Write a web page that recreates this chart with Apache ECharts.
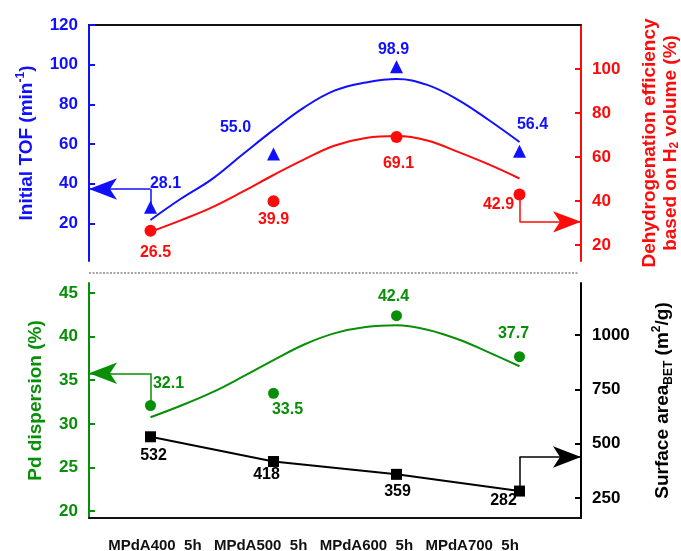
<!DOCTYPE html>
<html><head><meta charset="utf-8">
<script src="https://cdn.jsdelivr.net/npm/echarts@6/dist/echarts.min.js"></script>
<style>html,body{margin:0;padding:0;background:#fff}#c{width:681px;height:551px}</style>
</head><body><div id="c"></div>
<script>
// ---- data ----
const categories = ['MPdA400  5h', 'MPdA500  5h', 'MPdA600  5h', 'MPdA700  5h'];
const tof = [28.1, 55.0, 98.9, 56.4];
const dehydro = [26.5, 39.9, 69.1, 42.9];
const dispersion = [32.1, 33.5, 42.4, 37.7];
const bet = [532, 418, 359, 282];
// fitted trend curves (at sample positions along the category axis)
const fitX = [0, 0.25, 0.5, 0.75, 1.0, 1.25, 1.5, 1.75, 2.0, 2.25, 2.5, 2.75, 3.0];
const tofFit = [21.7, 32.5, 42.3, 54.8, 67.1, 78.5, 87.0, 91.0, 92.8, 89.8, 82.3, 72.1, 61.0];
const dehydroFit = [26.0, 31.3, 37.1, 44.2, 51.8, 58.9, 65.2, 68.6, 69.5, 67.5, 62.3, 56.6, 50.2];
const dispersionFit = [30.75, 32.1, 33.6, 35.4, 37.3, 39.1, 40.4, 41.1, 41.3, 40.8, 39.7, 38.2, 36.6];
// axis tick labels
const tofTicks = [20, 40, 60, 80, 100, 120];
const dehydroTicks = [20, 40, 60, 80, 100];
const dispTicks = [20, 25, 30, 35, 40, 45];
const betTicks = [250, 500, 750, 1000];
// arrow levels (axis-pointer arrows, in data units)
const tofArrow = 37.3, dehydroArrow = 30.5, dispArrow = 35.8, betArrow = 439;

// ---- styles ----
const FONT = '"Liberation Sans", Arial, sans-serif';
const BLUE = '#1010ff', RED = '#ff0a0a', GREEN = '#078f07', BLACK = '#000000';

const chart = echarts.init(document.getElementById('c'));

function yAx(gi, pos, color, min, max, ticks, name, gap, rich) {
  return {
    type: 'value', gridIndex: gi, position: pos, min: min, max: max,
    axisLine: { show: true, onZero: false, lineStyle: { color: color, width: 2 } },
    axisTick: { show: true, inside: true, length: 6, customValues: ticks, lineStyle: { color: color, width: 2 } },
    axisLabel: { customValues: ticks, color: color, fontSize: 17, fontWeight: 'bold', fontFamily: FONT, margin: 11,
      formatter: v => String(v) },
    splitLine: { show: false },
    name: name, nameLocation: 'middle', nameRotate: 90, nameGap: gap,
    nameTextStyle: { color: color, fontSize: 19, fontWeight: 'bold', fontFamily: FONT, rich: rich }
  };
}
function richFor(color, lh) {
  return {
    t: { color: color, fontSize: 19, fontWeight: 'bold', fontFamily: FONT, lineHeight: lh, verticalAlign: 'middle' },
    sup: { color: color, fontSize: 12, fontWeight: 'bold', fontFamily: FONT, lineHeight: lh, verticalAlign: 'top' },
    sub: { color: color, fontSize: 12, fontWeight: 'bold', fontFamily: FONT, lineHeight: lh, verticalAlign: 'bottom' }
  };
}
function pts(values, offsets, color, digits) {
  return values.map((v, i) => ({
    value: [i, v],
    label: { show: true, position: 'inside', offset: offsets[i], color: color, fontSize: 16, fontWeight: 'bold', fontFamily: FONT,
      formatter: () => v.toFixed(digits) }
  }));
}
function fit(ys) { return fitX.map((x, i) => [x, ys[i]]); }
function arrow(x0, y0, y1, xEnd, color) {
  return {
    silent: true, animation: false, label: { show: false },
    lineStyle: { color: color, width: 1.5, type: 'solid' },
    data: [
      [{ coord: [x0, y0], symbol: 'none' }, { coord: [x0, y1], symbol: 'none' }],
      [{ coord: [x0, y1], symbol: 'none' }, { coord: [xEnd, y1], symbol: 'arrow', symbolSize: [16, 28] }]
    ]
  };
}

const option = {
  animation: false,
  backgroundColor: '#ffffff',
  grid: [
    { left: 89, right: 100, top: 25, height: 236, outerBoundsMode: 'none', containLabel: false },
    { left: 89, right: 100, top: 283, height: 235, outerBoundsMode: 'none', containLabel: false },
    { left: 102, width: 423, top: 283, height: 235, outerBoundsMode: 'none', containLabel: false }
  ],
  xAxis: [
    { type: 'value', gridIndex: 0, min: -0.5, max: 3.5, position: 'top',
      axisLine: { onZero: false, lineStyle: { color: '#111', width: 2 } }, axisTick: { show: false }, axisLabel: { show: false }, splitLine: { show: false } },
    { type: 'value', gridIndex: 1, min: -0.5, max: 3.5, position: 'bottom',
      axisLine: { onZero: false, lineStyle: { color: '#111', width: 2 } }, axisTick: { show: false }, axisLabel: { show: false }, splitLine: { show: false } },
    { type: 'category', gridIndex: 2, data: categories, boundaryGap: true,
      axisLine: { show: false }, axisTick: { show: false },
      axisLabel: { interval: 0, hideOverlap: false, color: '#111', fontSize: 15, fontWeight: 'bold', fontFamily: FONT, margin: 20 } }
  ],
  yAxis: [
    yAx(0, 'left', BLUE, 1, 120, tofTicks, '{t|Initial TOF (min}{sup|-1}{t|)}', 50, richFor(BLUE, 24)),
    yAx(0, 'right', RED, 12.7, 120, dehydroTicks, '{t|Dehydrogenation efficiency}\n{t|based on H}{sub|2}{t| volume (%)}', 58, richFor(RED, 21)),
    yAx(1, 'left', GREEN, 19.2, 46.15, dispTicks, 'Pd dispersion (%)', 44, undefined),
    yAx(1, 'right', BLACK, 158, 1240, betTicks, '{t|Surface area}{sub|BET}{t| (m}{sup|2}{t|/g)}', 70, richFor(BLACK, 24)),
    { type: 'value', gridIndex: 2, show: false }
  ],
  graphic: [
    { type: 'line', silent: true, shape: { x1: 89, y1: 273, x2: 578, y2: 273 },
      style: { stroke: '#888', lineWidth: 1.5, lineDash: [2, 1.5] } }
  ],
  series: [
    { type: 'line', xAxisIndex: 0, yAxisIndex: 0, data: fit(tofFit), smooth: 0.4, symbol: 'none',
      lineStyle: { color: BLUE, width: 2 }, z: 2 },
    { type: 'line', xAxisIndex: 0, yAxisIndex: 1, data: fit(dehydroFit), smooth: 0.4, symbol: 'none',
      lineStyle: { color: RED, width: 2 }, z: 2 },
    { type: 'scatter', xAxisIndex: 0, yAxisIndex: 0, symbol: 'triangle', symbolSize: 13,
      itemStyle: { color: BLUE, opacity: 1 }, z: 4,
      data: pts(tof, [[15, -24], [-38, -26], [-3, -17], [13, -27]], BLUE, 1),
      markLine: arrow(0, tof[0], tofArrow, -0.5, BLUE) },
    { type: 'scatter', xAxisIndex: 0, yAxisIndex: 1, symbol: 'circle', symbolSize: 12,
      itemStyle: { color: RED, opacity: 1 }, z: 4,
      data: pts(dehydro, [[5, 22], [0, 18], [2, 27], [-21, 10]], RED, 1),
      markLine: arrow(3, dehydro[3], dehydroArrow, 3.5, RED) },
    { type: 'line', xAxisIndex: 1, yAxisIndex: 2, data: fit(dispersionFit), smooth: 0.4, symbol: 'none',
      lineStyle: { color: GREEN, width: 2 }, z: 2 },
    { type: 'scatter', xAxisIndex: 1, yAxisIndex: 2, symbol: 'circle', symbolSize: 11,
      itemStyle: { color: GREEN, opacity: 1 }, z: 4,
      data: pts(dispersion, [[18, -22], [14, 16], [-3, -19], [-6, -23]], GREEN, 1),
      markLine: arrow(0, dispersion[0], dispArrow, -0.5, GREEN) },
    { type: 'line', xAxisIndex: 1, yAxisIndex: 3, symbol: 'rect', symbolSize: 11,
      lineStyle: { color: BLACK, width: 2 }, itemStyle: { color: BLACK, opacity: 1 }, z: 4,
      data: pts(bet, [[3, 19], [-7, 13], [1, 17], [-16, 10]], BLACK, 0),
      markLine: arrow(3, bet[3], betArrow, 3.5, BLACK) }
  ]
};
chart.setOption(option);
</script>
</body></html>
